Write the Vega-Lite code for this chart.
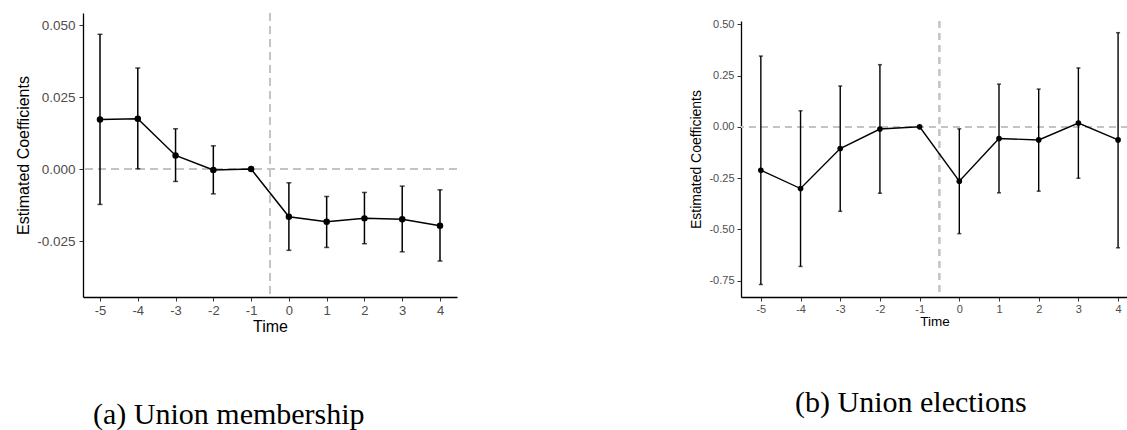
{
  "$schema": "https://vega.github.io/schema/vega-lite/v6.json",
  "padding": {"left": 15, "top": 12, "right": 0, "bottom": 0},
  "autosize": {"type": "pad"},
  "background": "white",
  "config": {
    "view": {"stroke": null},
    "locale": {"number": {"decimal": ".", "thousands": ",", "grouping": [3], "currency": ["$", ""], "minus": "-"}},
    "axis": {"grid": false, "domainColor": "black", "domainWidth": 1.3, "tickColor": "#333333", "tickWidth": 1, "labelColor": "#4d4d4d", "titleColor": "black", "labelFont": "Liberation Sans", "titleFont": "Liberation Sans", "titleFontWeight": "normal"}
  },
  "datasets": {
    "a": [
      {"t": -5, "est": 0.01725, "lo": -0.01226, "hi": 0.0468},
      {"t": -4, "est": 0.01747, "lo": 0.0001, "hi": 0.0351},
      {"t": -3, "est": 0.00475, "lo": -0.00428, "hi": 0.0140},
      {"t": -2, "est": -0.0003, "lo": -0.0086, "hi": 0.0081},
      {"t": -1, "est": 0.0, "lo": null, "hi": null},
      {"t": 0, "est": -0.01655, "lo": -0.0282, "hi": -0.00475},
      {"t": 1, "est": -0.0183, "lo": -0.0272, "hi": -0.0095},
      {"t": 2, "est": -0.0171, "lo": -0.0259, "hi": -0.0081},
      {"t": 3, "est": -0.0174, "lo": -0.0287, "hi": -0.0059},
      {"t": 4, "est": -0.0197, "lo": -0.0319, "hi": -0.0072}
    ],
    "b": [
      {"t": -5, "est": -0.212, "lo": -0.769, "hi": 0.345},
      {"t": -4, "est": -0.301, "lo": -0.681, "hi": 0.078},
      {"t": -3, "est": -0.106, "lo": -0.412, "hi": 0.199},
      {"t": -2, "est": -0.011, "lo": -0.324, "hi": 0.303},
      {"t": -1, "est": 0.0, "lo": null, "hi": null},
      {"t": 0, "est": -0.265, "lo": -0.521, "hi": -0.010},
      {"t": 1, "est": -0.057, "lo": -0.322, "hi": 0.208},
      {"t": 2, "est": -0.064, "lo": -0.314, "hi": 0.184},
      {"t": 3, "est": 0.018, "lo": -0.251, "hi": 0.287},
      {"t": 4, "est": -0.064, "lo": -0.590, "hi": 0.459}
    ],
    "spacer": [{"s": ""}]
  },
  "spacing": 231,
  "hconcat": [
    {
      "width": 374,
      "height": 284,
      "data": {"name": "a"},
      "title": {"text": "(a) Union membership", "orient": "bottom", "anchor": "start", "frame": "group", "dx": 10, "offset": 90, "baseline": "alphabetic", "font": "Liberation Serif", "fontSize": 30, "fontWeight": "normal", "color": "black"},
      "layer": [
        {"mark": {"type": "rule", "color": "#c4c4c4", "strokeDash": [8, 5], "strokeWidth": 1.5}, "encoding": {"y": {"datum": 0, "type": "quantitative", "scale": {"domain": [-0.0444, 0.0542], "nice": false, "zero": false}}}},
        {"mark": {"type": "rule", "color": "#c4c4c4", "strokeDash": [8, 5], "strokeWidth": 1.5}, "encoding": {"x": {"datum": -0.5, "type": "quantitative", "scale": {"domain": [-5.45, 4.45], "nice": false, "zero": false}}}},
        {"mark": {"type": "rule", "color": "black", "strokeWidth": 1.5},
         "encoding": {
           "x": {"field": "t", "type": "quantitative", "scale": {"domain": [-5.45, 4.45], "nice": false, "zero": false}, "axis": {"values": [-5, -4, -3, -2, -1, 0, 1, 2, 3, 4], "format": "d", "title": "Time", "labelFontSize": 13, "titleFontSize": 16, "tickSize": 4, "labelPadding": 3, "titlePadding": 1}},
           "y": {"field": "lo", "type": "quantitative", "scale": {"domain": [-0.0444, 0.0542], "nice": false, "zero": false}, "axis": {"values": [-0.025, 0, 0.025, 0.05], "format": ".3f", "title": "Estimated Coefficients", "labelFontSize": 13.5, "titleFontSize": 16, "tickSize": 4, "labelPadding": 4, "titlePadding": 5}},
           "y2": {"field": "hi"}
         }},
        {"mark": {"type": "tick", "orient": "horizontal", "size": 5, "thickness": 1.5, "color": "black"},
         "encoding": {
           "x": {"field": "t", "type": "quantitative", "scale": {"domain": [-5.45, 4.45], "nice": false, "zero": false}, "axis": {"values": [-5, -4, -3, -2, -1, 0, 1, 2, 3, 4], "format": "d", "title": "Time", "labelFontSize": 13, "titleFontSize": 16, "tickSize": 4, "labelPadding": 3, "titlePadding": 1}},
           "y": {"field": "hi", "type": "quantitative", "scale": {"domain": [-0.0444, 0.0542], "nice": false, "zero": false}, "axis": {"values": [-0.025, 0, 0.025, 0.05], "format": ".3f", "title": "Estimated Coefficients", "labelFontSize": 13.5, "titleFontSize": 16, "tickSize": 4, "labelPadding": 4, "titlePadding": 5}}
         }},
        {"mark": {"type": "tick", "orient": "horizontal", "size": 5, "thickness": 1.5, "color": "black"},
         "encoding": {
           "x": {"field": "t", "type": "quantitative", "scale": {"domain": [-5.45, 4.45], "nice": false, "zero": false}, "axis": {"values": [-5, -4, -3, -2, -1, 0, 1, 2, 3, 4], "format": "d", "title": "Time", "labelFontSize": 13, "titleFontSize": 16, "tickSize": 4, "labelPadding": 3, "titlePadding": 1}},
           "y": {"field": "lo", "type": "quantitative", "scale": {"domain": [-0.0444, 0.0542], "nice": false, "zero": false}, "axis": {"values": [-0.025, 0, 0.025, 0.05], "format": ".3f", "title": "Estimated Coefficients", "labelFontSize": 13.5, "titleFontSize": 16, "tickSize": 4, "labelPadding": 4, "titlePadding": 5}}
         }},
        {"mark": {"type": "line", "color": "black", "strokeWidth": 1.5},
         "encoding": {
           "x": {"field": "t", "type": "quantitative", "scale": {"domain": [-5.45, 4.45], "nice": false, "zero": false}, "axis": {"values": [-5, -4, -3, -2, -1, 0, 1, 2, 3, 4], "format": "d", "title": "Time", "labelFontSize": 13, "titleFontSize": 16, "tickSize": 4, "labelPadding": 3, "titlePadding": 1}},
           "y": {"field": "est", "type": "quantitative", "scale": {"domain": [-0.0444, 0.0542], "nice": false, "zero": false}, "axis": {"values": [-0.025, 0, 0.025, 0.05], "format": ".3f", "title": "Estimated Coefficients", "labelFontSize": 13.5, "titleFontSize": 16, "tickSize": 4, "labelPadding": 4, "titlePadding": 5}}
         }},
        {"mark": {"type": "circle", "color": "black", "opacity": 1, "size": 42},
         "encoding": {
           "x": {"field": "t", "type": "quantitative", "scale": {"domain": [-5.45, 4.45], "nice": false, "zero": false}, "axis": {"values": [-5, -4, -3, -2, -1, 0, 1, 2, 3, 4], "format": "d", "title": "Time", "labelFontSize": 13, "titleFontSize": 16, "tickSize": 4, "labelPadding": 3, "titlePadding": 1}},
           "y": {"field": "est", "type": "quantitative", "scale": {"domain": [-0.0444, 0.0542], "nice": false, "zero": false}, "axis": {"values": [-0.025, 0, 0.025, 0.05], "format": ".3f", "title": "Estimated Coefficients", "labelFontSize": 13.5, "titleFontSize": 16, "tickSize": 4, "labelPadding": 4, "titlePadding": 5}}
         }}
      ]
    },
    {
      "spacing": 0,
      "vconcat": [
        {
          "width": 387,
          "height": 5,
          "data": {"name": "spacer"},
          "mark": {"type": "point", "opacity": 0, "size": 1},
          "encoding": {}
        },
        {
          "width": 387,
          "height": 276,
          "data": {"name": "b"},
          "title": {"text": "(b) Union elections", "orient": "bottom", "anchor": "start", "frame": "group", "dx": 54, "offset": 84, "baseline": "alphabetic", "font": "Liberation Serif", "fontSize": 30, "fontWeight": "normal", "color": "black"},
          "layer": [
            {"mark": {"type": "rule", "color": "#c4c4c4", "strokeDash": [7, 5], "strokeWidth": 1.3}, "encoding": {"y": {"datum": 0, "type": "quantitative", "scale": {"domain": [-0.83, 0.516], "nice": false, "zero": false}}}},
            {"mark": {"type": "rule", "color": "#c4c4c4", "strokeDash": [7, 5], "strokeWidth": 1.3}, "encoding": {"x": {"datum": -0.5, "type": "quantitative", "scale": {"domain": [-5.5, 4.25], "nice": false, "zero": false}}}},
            {"mark": {"type": "rule", "color": "black", "strokeWidth": 1.4},
             "encoding": {
               "x": {"field": "t", "type": "quantitative", "scale": {"domain": [-5.5, 4.25], "nice": false, "zero": false}, "axis": {"values": [-5, -4, -3, -2, -1, 0, 1, 2, 3, 4], "format": "d", "title": "Time", "labelFontSize": 11, "titleFontSize": 13.5, "tickSize": 4, "labelPadding": 2, "titlePadding": 0}},
               "y": {"field": "lo", "type": "quantitative", "scale": {"domain": [-0.83, 0.516], "nice": false, "zero": false}, "axis": {"values": [-0.75, -0.5, -0.25, 0, 0.25, 0.5], "format": ".2f", "title": "Estimated Coefficients", "labelFontSize": 11, "titleFontSize": 14, "tickSize": 4, "labelPadding": 3, "titlePadding": 5}},
               "y2": {"field": "hi"}
             }},
            {"mark": {"type": "tick", "orient": "horizontal", "size": 4, "thickness": 1.5, "color": "black"},
             "encoding": {
               "x": {"field": "t", "type": "quantitative", "scale": {"domain": [-5.5, 4.25], "nice": false, "zero": false}, "axis": {"values": [-5, -4, -3, -2, -1, 0, 1, 2, 3, 4], "format": "d", "title": "Time", "labelFontSize": 11, "titleFontSize": 13.5, "tickSize": 4, "labelPadding": 2, "titlePadding": 0}},
               "y": {"field": "hi", "type": "quantitative", "scale": {"domain": [-0.83, 0.516], "nice": false, "zero": false}, "axis": {"values": [-0.75, -0.5, -0.25, 0, 0.25, 0.5], "format": ".2f", "title": "Estimated Coefficients", "labelFontSize": 11, "titleFontSize": 14, "tickSize": 4, "labelPadding": 3, "titlePadding": 5}}
             }},
            {"mark": {"type": "tick", "orient": "horizontal", "size": 4, "thickness": 1.5, "color": "black"},
             "encoding": {
               "x": {"field": "t", "type": "quantitative", "scale": {"domain": [-5.5, 4.25], "nice": false, "zero": false}, "axis": {"values": [-5, -4, -3, -2, -1, 0, 1, 2, 3, 4], "format": "d", "title": "Time", "labelFontSize": 11, "titleFontSize": 13.5, "tickSize": 4, "labelPadding": 2, "titlePadding": 0}},
               "y": {"field": "lo", "type": "quantitative", "scale": {"domain": [-0.83, 0.516], "nice": false, "zero": false}, "axis": {"values": [-0.75, -0.5, -0.25, 0, 0.25, 0.5], "format": ".2f", "title": "Estimated Coefficients", "labelFontSize": 11, "titleFontSize": 14, "tickSize": 4, "labelPadding": 3, "titlePadding": 5}}
             }},
            {"mark": {"type": "line", "color": "black", "strokeWidth": 1.4},
             "encoding": {
               "x": {"field": "t", "type": "quantitative", "scale": {"domain": [-5.5, 4.25], "nice": false, "zero": false}, "axis": {"values": [-5, -4, -3, -2, -1, 0, 1, 2, 3, 4], "format": "d", "title": "Time", "labelFontSize": 11, "titleFontSize": 13.5, "tickSize": 4, "labelPadding": 2, "titlePadding": 0}},
               "y": {"field": "est", "type": "quantitative", "scale": {"domain": [-0.83, 0.516], "nice": false, "zero": false}, "axis": {"values": [-0.75, -0.5, -0.25, 0, 0.25, 0.5], "format": ".2f", "title": "Estimated Coefficients", "labelFontSize": 11, "titleFontSize": 14, "tickSize": 4, "labelPadding": 3, "titlePadding": 5}}
             }},
            {"mark": {"type": "circle", "color": "black", "opacity": 1, "size": 32},
             "encoding": {
               "x": {"field": "t", "type": "quantitative", "scale": {"domain": [-5.5, 4.25], "nice": false, "zero": false}, "axis": {"values": [-5, -4, -3, -2, -1, 0, 1, 2, 3, 4], "format": "d", "title": "Time", "labelFontSize": 11, "titleFontSize": 13.5, "tickSize": 4, "labelPadding": 2, "titlePadding": 0}},
               "y": {"field": "est", "type": "quantitative", "scale": {"domain": [-0.83, 0.516], "nice": false, "zero": false}, "axis": {"values": [-0.75, -0.5, -0.25, 0, 0.25, 0.5], "format": ".2f", "title": "Estimated Coefficients", "labelFontSize": 11, "titleFontSize": 14, "tickSize": 4, "labelPadding": 3, "titlePadding": 5}}
             }}
          ]
        }
      ]
    }
  ]
}
